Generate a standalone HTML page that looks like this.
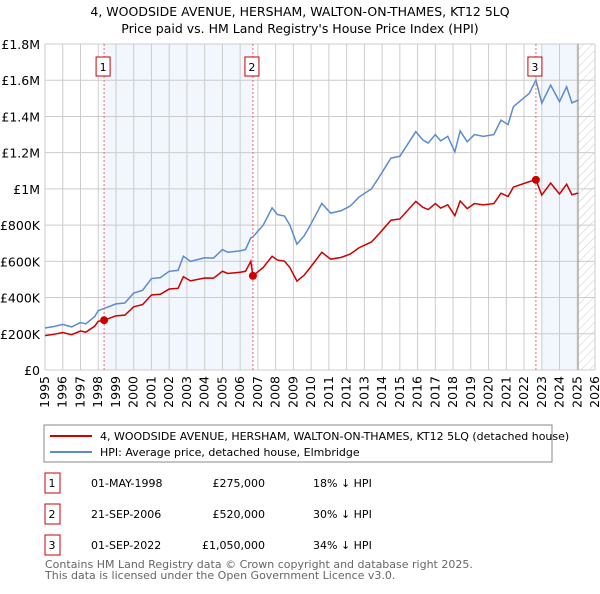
<!DOCTYPE html>
<html><head><meta charset="utf-8"><style>
body{margin:0;background:#fff;font-family:"DejaVu Sans","Liberation Sans",sans-serif;}
svg text{font-family:"DejaVu Sans","Liberation Sans",sans-serif;}
</style></head><body>
<svg id="c" width="600" height="590" xmlns="http://www.w3.org/2000/svg">
<defs><pattern id="hatch" width="6" height="6" patternUnits="userSpaceOnUse" patternTransform="rotate(45)"><line x1="0" y1="0" x2="0" y2="6" stroke="#ccc" stroke-width="1"/></pattern></defs>
<text x="300" y="16" text-anchor="middle" font-size="12.5">4, WOODSIDE AVENUE, HERSHAM, WALTON-ON-THAMES, KT12 5LQ</text>
<text x="300" y="33" text-anchor="middle" font-size="12.5">Price paid vs. HM Land Registry's House Price Index (HPI)</text>
<g id="plot"></g>
<rect x="44" y="425" width="508" height="37" fill="#fff" stroke="#888"/>
<line x1="50" y1="436" x2="92" y2="436" stroke="#cc0000" stroke-width="2"/>
<text x="100" y="440" font-size="11">4, WOODSIDE AVENUE, HERSHAM, WALTON-ON-THAMES, KT12 5LQ (detached house)</text>
<line x1="50" y1="452" x2="92" y2="452" stroke="#5b8bd0" stroke-width="2"/>
<text x="100" y="456" font-size="11">HPI: Average price, detached house, Elmbridge</text>
<g id="tbl"></g>
<text x="45" y="568" font-size="11" fill="#666">Contains HM Land Registry data © Crown copyright and database right 2025.</text>
<text x="45" y="579" font-size="11" fill="#666">This data is licensed under the Open Government Licence v3.0.</text>
</svg>
<script>
const years=[1995.0,1995.5,1996.0,1996.5,1997.0,1997.3,1997.8,1998.0,1998.33,1999.0,1999.5,2000.0,2000.5,2001.0,2001.5,2002.0,2002.5,2002.8,2003.2,2004.0,2004.5,2005.0,2005.3,2006.0,2006.3,2006.6,2006.72,2007.3,2007.8,2008.1,2008.5,2008.8,2009.2,2009.6,2009.9,2010.6,2011.1,2011.7,2012.2,2012.7,2013.4,2013.8,2014.5,2015.0,2015.9,2016.3,2016.6,2017.0,2017.3,2017.7,2018.1,2018.4,2018.8,2019.2,2019.7,2020.3,2020.7,2021.1,2021.4,2022.3,2022.67,2023.0,2023.5,2024.0,2024.4,2024.7,2025.05];
const hpi=[232,240,252,238,262,255,295,328,340,365,370,425,440,505,510,545,550,628,600,620,618,665,650,658,665,730,735,800,895,858,850,800,695,740,790,920,866,880,905,955,1000,1060,1170,1180,1316,1270,1253,1300,1265,1290,1205,1320,1260,1300,1290,1300,1380,1355,1454,1528,1601,1473,1573,1482,1564,1475,1490];
const price=[190,197,207,195,215,209,242,269,275,299,303,349,361,414,418,447,451,515,492,508,507,545,533,540,545,600,520,566,628,607,601,566,491,523,559,650,612,622,640,675,707,749,827,834,931,898,886,919,894,912,852,933,891,919,912,919,976,958,1010,1040,1050,966,1032,972,1026,968,977];
const yTicks=[0,200,400,600,800,1000,1200,1400,1600,1800];
const yTickLabels=["£0","£200K","£400K","£600K","£800K","£1M","£1.2M","£1.4M","£1.6M","£1.8M"];
const xTicks=[1995,1996,1997,1998,1999,2000,2001,2002,2003,2004,2005,2006,2007,2008,2009,2010,2011,2012,2013,2014,2015,2016,2017,2018,2019,2020,2021,2022,2023,2024,2025,2026];
const saleYears=[1998.33,2006.72,2022.67];
const saleValues=[275,520,1050];
const saleIds=["1","2","3"];
const saleDates=["01-MAY-1998","21-SEP-2006","01-SEP-2022"];
const salePrices=["£275,000","£520,000","£1,050,000"];
const salePct=["18% ↓ HPI","30% ↓ HPI","34% ↓ HPI"];

const L=45,R=595,T=44,B=370,NS="http://www.w3.org/2000/svg";
const X=y=>L+(y-1995)/(2026-1995)*(R-L);
const Y=v=>B-v/1800*(B-T);
const g=document.getElementById('plot');
function mk(tag,at,parent){const e=document.createElementNS(NS,tag);for(const k in at)e.setAttribute(k,at[k]);(parent||g).appendChild(e);return e;}
let r;
r=mk('rect',{x:X(saleYears[0]),y:T,width:X(saleYears[1])-X(saleYears[0]),height:B-T,fill:'#f2f6fd'});


r=mk('rect',{x:X(2023),y:T,width:X(2025.05)-X(2023),height:B-T,fill:'#f2f6fd'});


r=mk('rect',{x:X(2025.05),y:T,width:R-X(2025.05),height:B-T,fill:'url(#hatch)'});


yTicks.forEach((v,i)=>{
  const l=mk('line',{x1:L,x2:R,y1:Y(v),y2:Y(v),stroke:'#ccc'});
  
  
  const t=mk('text',{x:40,y:Y(v)+5,'text-anchor':'end','font-size':'12.5'});t.textContent=yTickLabels[i];
  
  
});
xTicks.forEach(yr=>{
  const l=mk('line',{x1:X(yr),x2:X(yr),y1:T,y2:B,stroke:'#ccc'});
  
  
  const t=mk('text',{x:0,y:0,'text-anchor':'end','font-size':'12.5',transform:`translate(${X(yr)+4},${B+6}) rotate(-90)`});t.textContent=yr;
  
  
});
r=mk('line',{x1:X(2025.05),x2:X(2025.05),y1:T,y2:B,stroke:'#999'});


let p=mk('polyline',{points:years.map((y,i)=>X(y)+','+Y(hpi[i])).join(' '),fill:'none',stroke:'#5b8bd0','stroke-width':1.5});


p=mk('polyline',{points:years.map((y,i)=>X(y)+','+Y(price[i])).join(' '),fill:'none',stroke:'#cc0000','stroke-width':1.5});


saleYears.forEach((y,i)=>{
  const l=mk('line',{x1:X(y),x2:X(y),y1:T,y2:B,stroke:'#e66','stroke-dasharray':'2,2'});
  
  
  const c=mk('circle',{cx:X(y),cy:Y(saleValues[i]),r:4,fill:'#cc0000'});
  
  
  const b=mk('rect',{x:X(y)-8,y:57,width:14,height:19,fill:'#fff',stroke:'#cc0000'});
  
  
  const t=mk('text',{x:X(y)-1,y:71,'text-anchor':'middle','font-size':'11'});t.textContent=saleIds[i];
  
  
});
const tb=document.getElementById('tbl');
saleIds.forEach((id,i)=>{
  const cy=483+i*31;
  const b=mk('rect',{x:45,y:cy-10,width:15,height:20,fill:'#fff',stroke:'#cc0000'},tb);
  
  
  const cols=[[52,id,'middle'],[91,saleDates[i],'start'],[265,salePrices[i],'end'],[313,salePct[i],'start']];
  const names=['table-id','table-date','table-price','table-hpi-diff'];
  cols.forEach((c,j)=>{const t=mk('text',{x:c[0],y:cy+4,'text-anchor':c[2],'font-size':'11'},tb);t.textContent=c[1];
    
    });
});
</script>
</body></html>
